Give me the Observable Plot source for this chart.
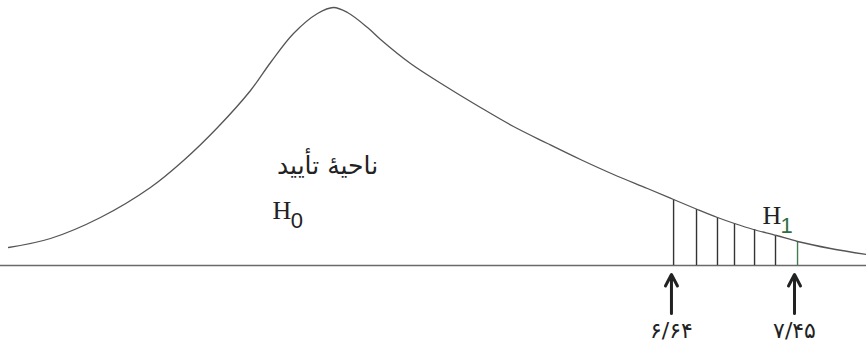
<!DOCTYPE html>
<html>
<head>
<meta charset="utf-8">
<script src="https://cdn.jsdelivr.net/npm/d3@7"></script>
<script src="https://cdn.jsdelivr.net/npm/@observablehq/plot@0.6"></script>
<style>
  html, body { margin: 0; padding: 0; background: #fff; }
  #chart svg { display: block; }
</style>
</head>
<body>
<div id="chart"></div>
<script>
// Curve of the test-statistic distribution (x in statistic units, y = density height, arbitrary units)
const curveX = [2.276, 2.552, 2.881, 3.210, 3.428, 3.652, 3.869, 4.001, 4.152, 4.310, 4.415, 4.507, 4.639, 4.725, 4.922, 5.166, 5.383, 5.600, 5.824, 6.041, 6.259, 6.482, 6.654, 6.811, 6.943, 7.055, 7.180, 7.332, 7.470, 7.687, 7.924];
const curveY = [18, 27, 48, 78, 105, 138, 175, 203, 232, 252, 258, 253, 238, 226, 202, 178, 158, 139, 122, 106, 91, 77, 66, 56, 48, 42, 36, 30, 24, 17, 11];

// Hatching of the rejection region
const hatchX = [6.654, 6.805, 6.943, 7.055, 7.187, 7.325, 7.470];
const hatchTop = [66, 56, 48, 42, 36, 30, 24];

// Marked values
const markValues = [6.64, 7.45];
const markLabels = ["۶/۶۴", "۷/۴۵"];

// Text labels
const regionLabel = "ناحیهٔ تأیید";
const h0Main = "H", h0Sub = "0";
const h1Main = "H", h1Sub = "1";

const curve = curveX.map((x, i) => ({x, y: curveY[i]}));
const hatch = hatchX.map((x, i) => ({x, top: hatchTop[i], last: i === hatchX.length - 1}));
const marks = markValues.map((v, i) => ({v, label: markLabels[i]}));

const chart = Plot.plot({
  width: 866,
  height: 345,
  margin: 0,
  x: {domain: [2.223, 7.924], range: [0, 866], axis: null},
  y: {domain: [-80, 265], range: [345, 0], axis: null},
  style: {background: "#fff"},
  marks: [
    Plot.ruleY([0], {stroke: "#6a6a6a", strokeWidth: 1.4}),
    Plot.ruleX(hatch, {x: "x", y1: 0, y2: "top", stroke: d => d.last ? "#3f7f4f" : "#333", strokeWidth: 1.4}),
    Plot.line(curve, {x: "x", y: "y", curve: "catmull-rom", stroke: "#555", strokeWidth: 1.3}),
    Plot.arrow(marks, {x1: "v", x2: "v", y1: -48, y2: -9, stroke: "#222", strokeWidth: 3, headLength: 14, headAngle: 55}),
    Plot.text(marks, {x: "v", y: -65, text: "label", fontSize: 22, fill: "#222", fontFamily: "DejaVu Sans", textAnchor: "middle", lineAnchor: "middle"}),
    Plot.text([regionLabel], {x: 4.376, y: 92, text: d => d, fontSize: 25, fill: "#222", fontFamily: "DejaVu Sans", textAnchor: "middle", lineAnchor: "bottom"}),
    Plot.text([h0Main], {x: 4.014, y: 47, text: d => d, fontSize: 26, fill: "#222", fontFamily: "Liberation Serif", textAnchor: "start", lineAnchor: "bottom"}),
    Plot.text([h0Sub], {x: 4.133, y: 38, text: d => d, fontSize: 22, fill: "#222", fontFamily: "Liberation Sans", textAnchor: "start", lineAnchor: "bottom"}),
    Plot.text([h1Main], {x: 7.239, y: 42, text: d => d, fontSize: 26, fill: "#222", fontFamily: "Liberation Serif", textAnchor: "start", lineAnchor: "bottom"}),
    Plot.text([h1Sub], {x: 7.358, y: 33, text: d => d, fontSize: 22, fill: "#2f6f3f", fontFamily: "Liberation Sans", textAnchor: "start", lineAnchor: "bottom"})
  ]
});
document.getElementById("chart").appendChild(chart);
</script>
</body>
</html>
